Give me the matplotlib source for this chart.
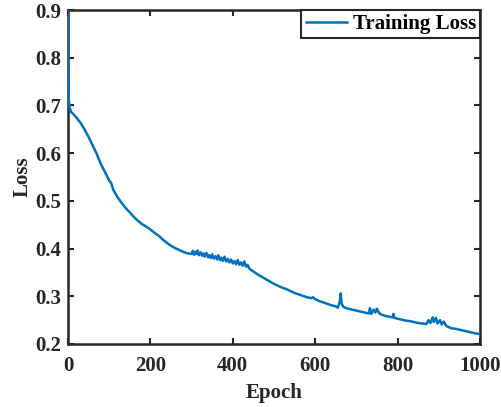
import numpy as np
import matplotlib.pyplot as plt

# Training loss (epoch, loss).
epochs = [0, 1, 2, 4, 8, 15, 20, 30, 40, 50, 60, 70, 80, 90, 100, 105, 110, 120, 130, 140,
          150, 160, 170, 180, 190, 200, 210, 220, 230, 240, 250, 260, 270, 280, 290,
          300, 303, 306, 309, 312, 315, 318, 322, 326, 329, 332, 336, 340, 343, 347, 350,
          354, 358, 362, 365, 369, 372, 376, 380, 384, 388, 392, 396, 400, 404, 408, 412,
          416, 420, 424, 428, 432, 436, 440, 445,
          450, 460, 470, 480, 490, 500, 510, 520, 530, 540, 550, 560, 570, 580, 590, 595,
          600, 610, 620, 630, 640, 650, 655, 660, 662, 664, 667, 670, 680, 690, 700, 710,
          720, 730, 733, 736, 742, 746, 750, 755, 760, 770, 780, 788, 790, 792, 800, 810,
          820, 830, 840, 850, 860, 870, 875, 880, 885, 888, 893, 897, 903, 907, 912, 918,
          925, 930, 940, 950, 960, 970, 980, 990, 1000]
loss = [0.900, 0.760, 0.712, 0.695, 0.686, 0.680, 0.675, 0.664, 0.650, 0.634, 0.616, 0.598,
        0.577, 0.560, 0.543, 0.537, 0.523, 0.508, 0.496, 0.485,
        0.476, 0.466, 0.458, 0.451, 0.446, 0.440, 0.433, 0.427, 0.419, 0.412, 0.406, 0.401,
        0.397, 0.393, 0.390,
        0.389, 0.395, 0.387, 0.393, 0.389, 0.396, 0.386, 0.392, 0.385, 0.390, 0.383, 0.391,
        0.382, 0.386, 0.380, 0.388, 0.379, 0.384, 0.377, 0.386, 0.376, 0.381, 0.374, 0.383,
        0.373, 0.378, 0.371, 0.377, 0.369, 0.374, 0.367, 0.376, 0.366, 0.371, 0.364, 0.373,
        0.362, 0.366, 0.358, 0.355,
        0.352, 0.346, 0.341, 0.336, 0.331, 0.326, 0.322, 0.318, 0.315, 0.311, 0.307, 0.304,
        0.301, 0.298, 0.296, 0.298,
        0.294, 0.290, 0.287, 0.284, 0.281, 0.279, 0.276, 0.290, 0.306, 0.285, 0.280, 0.277,
        0.274, 0.272, 0.270, 0.268,
        0.266, 0.264, 0.275, 0.263, 0.272, 0.266, 0.274, 0.265, 0.262, 0.259, 0.257, 0.256,
        0.263, 0.255, 0.253, 0.251,
        0.249, 0.248, 0.246, 0.244, 0.243, 0.242, 0.250, 0.244, 0.256, 0.246, 0.255, 0.243,
        0.250, 0.241, 0.247, 0.238,
        0.235, 0.233, 0.232, 0.230, 0.228, 0.226, 0.224, 0.222, 0.221]

plt.rcParams['font.family'] = ['Liberation Serif', 'DejaVu Serif']
plt.rcParams['font.weight'] = 'bold'

fig = plt.figure(figsize=(5.01, 4.07), dpi=100)
ax = fig.add_axes([0.1357, 0.1548, 0.8223, 0.8206])

ax.plot(epochs, loss, color='#0072BD', lw=1.8, label='Training Loss', zorder=3)

ax.set_xlim(0, 1000)
ax.set_ylim(0.2, 0.9)
ax.set_xticks([0, 200, 400, 600, 800, 1000])
ax.set_yticks([0.2, 0.3, 0.4, 0.5, 0.6, 0.7, 0.8, 0.9])
ax.tick_params(direction='in', length=4, width=1.5, top=True, right=True,
               labelsize=15, colors='#262626')
ax.tick_params(axis='x', pad=9)
ax.tick_params(axis='y', pad=5)
for s in ax.spines.values():
    s.set_linewidth(1.8)
    s.set_color('#262626')

ax.set_xlabel('Epoch', fontsize=15, fontweight='bold', color='#262626', labelpad=5)
ax.set_ylabel('Loss', fontsize=15, fontweight='bold', color='#262626', labelpad=2)

leg = ax.legend(loc='upper right', borderaxespad=0, fancybox=False, fontsize=15,
                handlelength=2.0, handletextpad=0.25, borderpad=0.2, framealpha=1)
leg.get_frame().set_edgecolor('#262626')
leg.get_frame().set_linewidth(1.5)

fig.savefig('out.png', dpi=100)
